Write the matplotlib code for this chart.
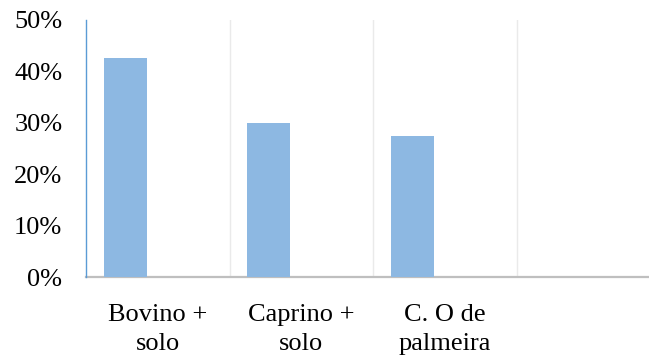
import matplotlib
matplotlib.use("Agg")
import matplotlib.pyplot as plt
from matplotlib.ticker import PercentFormatter

categories = ["Bovino +\nsolo", "Caprino +\nsolo", "C. O de\npalmeira", ""]
values = [0.426, 0.300, 0.275, None]
y_ticks = [0.0, 0.1, 0.2, 0.3, 0.4, 0.5]

plt.rcParams["font.family"] = ["Liberation Serif", "DejaVu Serif"]

W, H = 649, 356
fig = plt.figure(figsize=(W / 100, H / 100), dpi=100)
# plot area: left edge x=86, bottom y=277, top y=20, right runs past the figure edge
ax = fig.add_axes([86 / W, (H - 277) / H, (660 - 86) / W, (277 - 20) / H])

bar_color = "#8DB8E2"
xs = [i + 0.275 for i, v in enumerate(values) if v is not None]
hs = [v for v in values if v is not None]
ax.bar(xs, hs, width=0.30, color=bar_color, zorder=3)

ax.set_xlim(0, len(categories))
ax.set_ylim(0, 0.5)

# vertical separators between category slots
for i in range(1, len(categories) + 1):
    ax.axvline(i, color="#EAEAEA", lw=1.0, zorder=1)

ax.set_yticks(y_ticks)
ax.yaxis.set_major_formatter(PercentFormatter(1.0, decimals=0))
ax.tick_params(axis="y", length=0, pad=17, labelsize=19)

ax.set_xticks([i + 0.5 for i in range(len(categories))])
ax.set_xticklabels(categories, linespacing=1.42)
ax.tick_params(axis="x", length=0, pad=19.5, labelsize=19)

for s in ["top", "right"]:
    ax.spines[s].set_visible(False)
ax.spines["left"].set_color("#5B9BD5")
ax.spines["left"].set_linewidth(1.0)
ax.spines["bottom"].set_color("#BFBFBF")
ax.spines["bottom"].set_linewidth(1.6)
ax.spines["left"].set_zorder(4)

fig.savefig("out.png", dpi=100)
